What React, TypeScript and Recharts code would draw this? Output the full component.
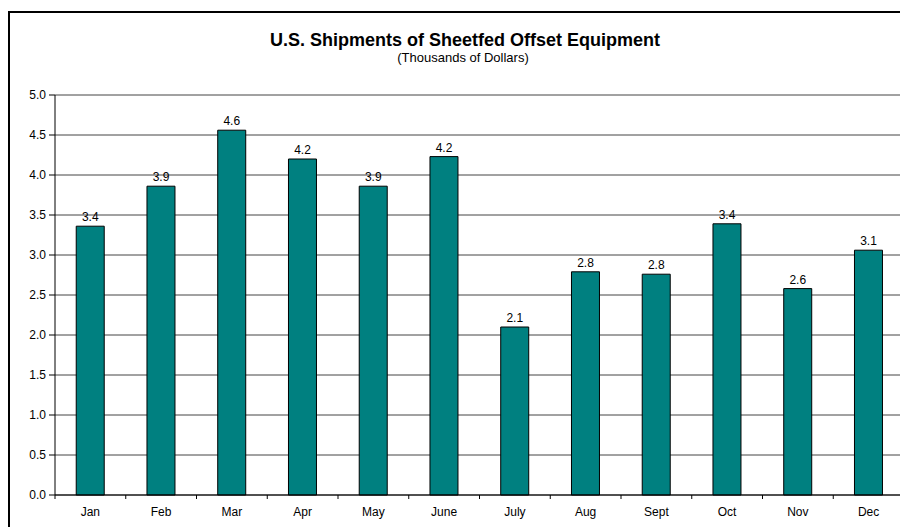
import { BarChart, Bar, XAxis, YAxis, CartesianGrid, LabelList } from 'recharts';

const months = ['Jan', 'Feb', 'Mar', 'Apr', 'May', 'June', 'July', 'Aug', 'Sept', 'Oct', 'Nov', 'Dec'];
const shipments = [3.36, 3.86, 4.56, 4.2, 3.86, 4.23, 2.1, 2.79, 2.76, 3.39, 2.58, 3.06];
const yTicks = [0, 0.5, 1, 1.5, 2, 2.5, 3, 3.5, 4, 4.5, 5];

const data = months.map((m, i) => ({ month: m, value: shipments[i] }));

const font = '"Liberation Sans", Arial, sans-serif';

// Excel style: tick marks sit between categories, label in the middle
const MonthTick = (props: any) => {
  const { x, y, payload, index } = props;
  const half = payload.offset || 0;
  const axisY = y - 12;
  return (
    <g>
      <line x1={x - half} x2={x - half} y1={axisY} y2={axisY + 4} stroke="#000" />
      {index === months.length - 1 && (
        <line x1={x + half} x2={x + half} y1={axisY} y2={axisY + 4} stroke="#000" />
      )}
      <text x={x} y={y} dy="0.71em" textAnchor="middle" fill="#000" fontSize={12} fontFamily={font}>
        {payload.value}
      </text>
    </g>
  );
};

const App = () => {
  return (
    <div style={{ position: 'relative', width: 900, height: 519, fontFamily: font }}>
      {/* frame, only top and left edges show in the picture */}
      <div
        style={{
          position: 'absolute',
          left: 0,
          top: 3,
          width: 910,
          height: 530,
          borderTop: '2px solid #000',
          borderLeft: '2px solid #000',
        }}
      />
      <div
        style={{
          position: 'absolute',
          left: 0,
          top: 22,
          width: 914,
          textAlign: 'center',
          fontWeight: 'bold',
          fontSize: 18,
          color: '#000',
        }}
      >
        U.S. Shipments of Sheetfed Offset Equipment
      </div>
      <div
        style={{
          position: 'absolute',
          left: 0,
          top: 42,
          width: 910,
          textAlign: 'center',
          fontSize: 13,
          color: '#000',
        }}
      >
        (Thousands of Dollars)
      </div>
      <div style={{ position: 'absolute', left: 0, top: 0 }}>
        <BarChart
          width={900}
          height={519}
          data={data}
          margin={{ top: 87, right: 4, left: 7, bottom: 2 }}
          barCategoryGap="30%"
        >
          <CartesianGrid vertical={false} stroke="#444" strokeWidth={1} />
          <XAxis
            dataKey="month"
            height={30}
            axisLine={{ stroke: '#000' }}
            tickLine={false}
            tickMargin={6}
            tick={<MonthTick />}
            interval={0}
          />
          <YAxis
            domain={[0, 5]}
            ticks={yTicks}
            width={40}
            axisLine={{ stroke: '#000' }}
            tickLine={{ stroke: '#000' }}
            tickSize={6}
            tickMargin={3}
            tick={{ fill: '#000', fontSize: 12, fontFamily: font }}
            tickFormatter={(v: number) => v.toFixed(1)}
          />
          <Bar dataKey="value" fill="#008080" stroke="#000" strokeWidth={1} isAnimationActive={false}>
            <LabelList
              dataKey="value"
              position="top"
              offset={5}
              fill="#000"
              fontSize={12}
              fontFamily={font}
              formatter={(v: number) => v.toFixed(1)}
            />
          </Bar>
        </BarChart>
      </div>
    </div>
  );
};

export default App;
